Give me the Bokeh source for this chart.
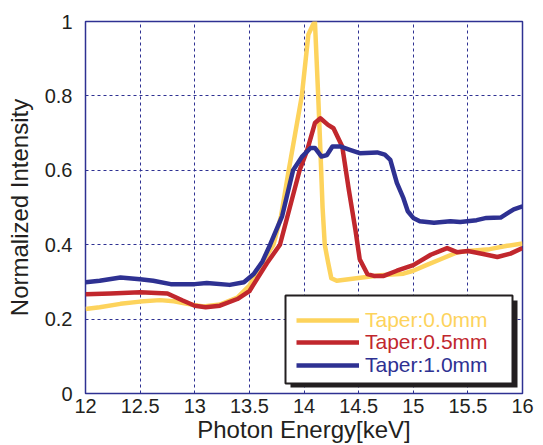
from bokeh.plotting import figure
from bokeh.models import Legend, LegendItem, BoxAnnotation, FixedTicker
from bokeh.embed import file_html
from bokeh.resources import INLINE

# ---- data ----
energy_t00 = [12.0, 12.13, 12.32, 12.5, 12.68, 12.81, 12.93, 13.08, 13.23, 13.39, 13.5, 13.6,
              13.72, 13.79, 13.86, 13.92, 13.98, 14.04, 14.08, 14.10, 14.13, 14.15, 14.17, 14.19,
              14.22, 14.25, 14.30, 14.48, 14.70, 14.91, 15.0, 15.12, 15.25, 15.40, 15.5, 15.70,
              15.86, 16.0]
intensity_t00 = [0.227, 0.232, 0.241, 0.247, 0.251, 0.248, 0.241, 0.234, 0.239, 0.258, 0.29, 0.343,
                 0.40, 0.477, 0.60, 0.70, 0.80, 0.965, 0.99, 1.0, 0.80, 0.655, 0.50, 0.40,
                 0.353, 0.31, 0.303, 0.31, 0.318, 0.322, 0.33, 0.345, 0.361, 0.379, 0.383, 0.388,
                 0.397, 0.403]

energy_t05 = [12.0, 12.23, 12.5, 12.75, 12.89, 13.0, 13.1, 13.23, 13.39, 13.5, 13.66, 13.78,
              13.87, 13.96, 14.03, 14.10, 14.15, 14.22, 14.27, 14.35, 14.41, 14.47, 14.51, 14.58,
              14.64, 14.73, 14.85, 15.0, 15.16, 15.31, 15.40, 15.5, 15.64, 15.77, 15.89, 16.0]
intensity_t05 = [0.267, 0.269, 0.272, 0.269, 0.25, 0.236, 0.232, 0.236, 0.254, 0.275, 0.35, 0.40,
                 0.50, 0.60, 0.655, 0.727, 0.74, 0.722, 0.713, 0.664, 0.548, 0.441, 0.361, 0.321,
                 0.316, 0.316, 0.33, 0.345, 0.373, 0.391, 0.38, 0.383, 0.375, 0.367, 0.376, 0.391]

energy_t10 = [12.0, 12.13, 12.32, 12.5, 12.62, 12.78, 13.0, 13.11, 13.32, 13.45, 13.54, 13.62,
              13.69, 13.80, 13.90, 13.98, 14.06, 14.10, 14.16, 14.21, 14.26, 14.33, 14.42, 14.51,
              14.67, 14.74, 14.79, 14.85, 14.91, 14.95, 15.0, 15.06, 15.19, 15.34, 15.43, 15.58,
              15.67, 15.80, 15.92, 16.0]
intensity_t10 = [0.299, 0.303, 0.312, 0.307, 0.303, 0.294, 0.294, 0.297, 0.292, 0.299, 0.321, 0.355,
                 0.40, 0.477, 0.60, 0.636, 0.66, 0.66, 0.637, 0.641, 0.664, 0.664, 0.655, 0.646,
                 0.648, 0.642, 0.628, 0.566, 0.525, 0.49, 0.472, 0.463, 0.459, 0.463, 0.461, 0.466,
                 0.472, 0.473, 0.495, 0.503]

series_names = ["Taper:0.0mm", "Taper:0.5mm", "Taper:1.0mm"]
x_ticks = [12, 12.5, 13, 13.5, 14, 14.5, 15, 15.5, 16]
x_tick_labels = ["12", "12.5", "13", "13.5", "14", "14.5", "15", "15.5", "16"]
y_ticks = [0, 0.2, 0.4, 0.6, 0.8, 1]
y_tick_labels = ["0", "0.2", "0.4", "0.6", "0.8", "1"]
x_title = "Photon Energy[keV]"
y_title = "Normalized Intensity"

# ---- styling ----
YELLOW = "#FDD35C"
RED = "#C1272D"
BLUE = "#2E3192"
TEXT = "#231F20"
FONT = "Liberation Sans"

p = figure(width=543, height=445, x_range=(12, 16), y_range=(0, 1),
           output_backend="svg", toolbar_location=None,
           min_border_left=85, min_border_right=21, min_border_top=21, min_border_bottom=50)

p.background_fill_color = "white"
p.border_fill_color = "white"
p.outline_line_color = BLUE
p.outline_line_width = 1.5

for ax in (p.xaxis[0], p.yaxis[0]):
    ax.axis_line_color = None
    ax.major_tick_line_color = None
    ax.minor_tick_line_color = None
    ax.major_tick_out = 0
    ax.major_tick_in = 0
    ax.minor_tick_out = 0
    ax.minor_tick_in = 0
    ax.major_label_text_font = FONT
    ax.major_label_text_font_size = "20px"
    ax.major_label_text_color = TEXT
    ax.axis_label_text_font = FONT
    ax.axis_label_text_font_size = "24px"
    ax.axis_label_text_font_style = "normal"
    ax.axis_label_text_color = TEXT

p.xaxis.ticker = FixedTicker(ticks=x_ticks)
p.xaxis.major_label_overrides = {(int(t) if t == int(t) else t): lab for t, lab in zip(x_ticks, x_tick_labels)}
p.yaxis.ticker = FixedTicker(ticks=y_ticks)
p.yaxis.major_label_overrides = {(int(t) if t == int(t) else t): lab for t, lab in zip(y_ticks, y_tick_labels)}
p.xaxis.major_label_standoff = 5
p.yaxis.major_label_standoff = 13
p.xaxis.axis_label_standoff = 0
p.yaxis.axis_label_standoff = 9
p.xaxis.axis_label = x_title
p.yaxis.axis_label = y_title

for g in (p.xgrid[0], p.ygrid[0]):
    g.grid_line_color = BLUE
    g.grid_line_dash = "3 3"
    g.grid_line_width = 1

r0 = p.line(energy_t00, intensity_t00, line_color=YELLOW, line_width=4.5, line_join="round")
r1 = p.line(energy_t05, intensity_t05, line_color=RED, line_width=4.5, line_join="round")
r2 = p.line(energy_t10, intensity_t10, line_color=BLUE, line_width=4.5, line_join="round")

# legend box with shadow (screen units, relative to frame bottom-left)
bx0, by0, bw, bh, sh = 200, 10, 227, 88, 5
shadow = BoxAnnotation(left=bx0 + sh, right=bx0 + bw + sh, bottom=by0 - sh + 1, top=by0 + bh - sh,
                       left_units="screen", right_units="screen", top_units="screen", bottom_units="screen",
                       fill_color="#231F20", fill_alpha=1, line_color=None)
box = BoxAnnotation(left=bx0, right=bx0 + bw, bottom=by0, top=by0 + bh,
                    left_units="screen", right_units="screen", top_units="screen", bottom_units="screen",
                    fill_color="white", fill_alpha=1, line_color="#231F20", line_width=2, line_alpha=1)
p.add_layout(shadow)
p.add_layout(box)

row_centers = [75.7, 53.3, 31.0]
for r, name, col, cy in zip((r0, r1, r2), series_names, (YELLOW, RED, BLUE), row_centers):
    lg = Legend(items=[LegendItem(label=name, renderers=[r])],
                location=(bx0 + 11, cy - 14.5), margin=0, padding=0, spacing=0,
                glyph_width=63, glyph_height=20, label_height=20, label_standoff=6,
                label_text_font=FONT, label_text_font_size="21px", label_text_color=col,
                background_fill_alpha=0, border_line_alpha=0)
    p.add_layout(lg)

open("out.html", "w").write(file_html(p, INLINE))
